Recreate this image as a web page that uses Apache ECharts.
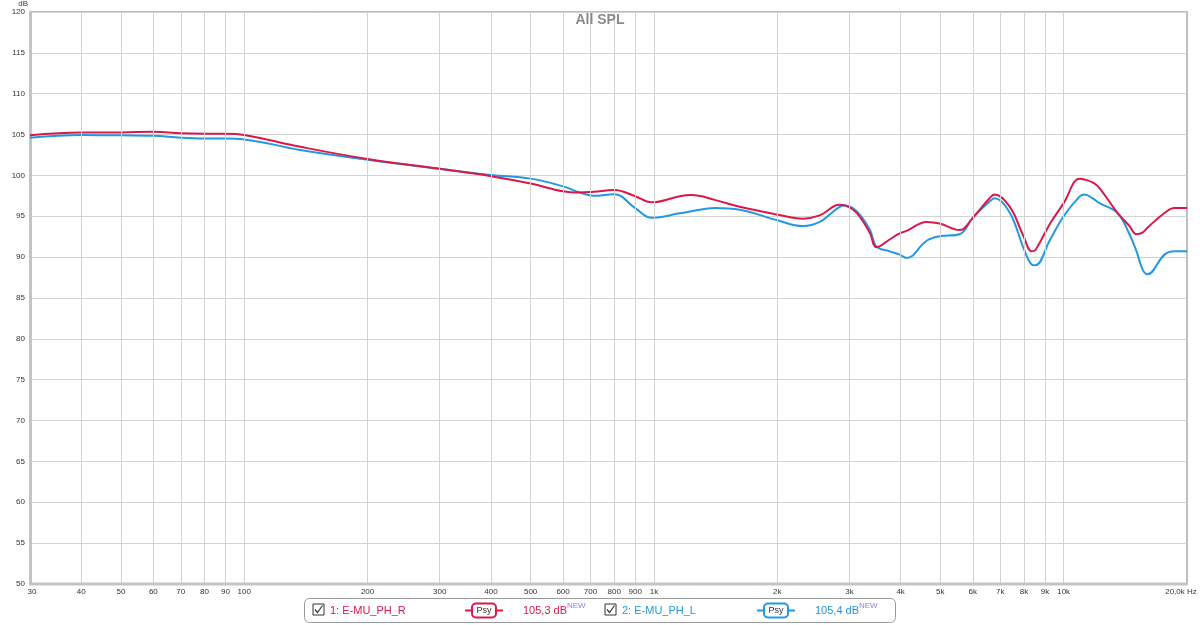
<!DOCTYPE html>
<html>
<head>
<meta charset="utf-8">
<script src="https://cdn.jsdelivr.net/npm/echarts@6/dist/echarts.min.js"></script>
<style>html,body{margin:0;padding:0;background:#fff}#c{width:1200px;height:625px}</style>
</head>
<body>
<div id="c"></div>
<script>
const freqs = [30,40,50,60,70,80,90,100,137,200,300,400,500,600,660,713,800,900,987,1156,1236,1407,1619,2000,2306,2538,2839,2936,3124,3361,3495,3761,3978,4137,4629,4981,5571,6000,6593,6780,7376,7983,8349,8540,9238,10000,10931,11243,11800,12232,13532,14476,15060,15577,16020,17625,18642,20000];
const splR = [104.9,105.25,105.25,105.35,105.15,105.1,105.1,104.95,103.5,102.0,100.8,99.9,99.0,98.05,97.9,98.0,98.2,97.45,96.7,97.45,97.6,97.0,96.15,95.2,94.7,95.1,96.4,96.3,95.4,93.0,91.2,92.15,92.9,93.2,94.3,94.1,93.3,94.8,97.2,97.65,96.2,92.55,90.7,90.9,94.0,96.6,99.6,99.5,99.1,98.45,95.4,93.8,92.8,93.0,93.6,95.4,96.0,96.0];
const splL = [104.6,104.95,104.9,104.85,104.6,104.5,104.5,104.4,103.1,101.9,100.8,100.05,99.6,98.65,97.9,97.5,97.7,96.0,94.8,95.35,95.6,96.0,95.8,94.5,93.8,94.3,96.15,96.3,95.6,93.4,91.3,90.7,90.3,89.9,92.0,92.55,92.8,94.8,96.8,97.2,95.5,91.1,89.1,89.0,92.0,95.0,97.4,97.65,97.15,96.6,95.4,92.8,90.7,88.5,87.9,90.3,90.7,90.7];
const tickFreqs = [30,40,50,60,70,80,90,100,200,300,400,500,600,700,800,900,1000,2000,3000,4000,5000,6000,7000,8000,9000,10000,20000];
const tickLabels = ['30','40','50','60','70','80','90','100','200','300','400','500','600','700','800','900','1k','2k','3k','4k','5k','6k','7k','8k','9k','10k','20,0k Hz'];
const seriesNames = ['1: E-MU_PH_R','2: E-MU_PH_L'];
const levelTexts = ['105,3 dB','105,4 dB'];
const title = 'All SPL';

const RED = '#d8194a', BLUE = '#2398e2';
const FONT = 'Liberation Sans, Arial, sans-serif';

const chart = echarts.init(document.getElementById('c'), null, {renderer:'canvas'});

const lastTick = tickFreqs.length - 1;
const gridMarks = tickFreqs.map((f,i) => ({
  xAxis: f,
  label: {formatter: tickLabels[i], offset: i === lastTick ? [-6,0] : (i === 0 ? [2,0] : [0,0])},
  lineStyle: (i === 0 || i === lastTick) ? {color: 'rgba(0,0,0,0)'} : {}
}));

function legendItem(x0, color, name, level) {
  return [
    {type:'rect', shape:{x:x0, y:604, width:11, height:11}, style:{fill:'#fff', stroke:'#333', lineWidth:1}},
    {type:'polyline', shape:{points:[[x0+2,609.5],[x0+4.5,612.5],[x0+9.5,605.5]]}, style:{stroke:'#333', lineWidth:1.2, fill:null}},
    {type:'text', x:x0+17, y:610.5, style:{text:name, fill:color, font:'11px '+FONT, verticalAlign:'middle'}},
    {type:'line', shape:{x1:x0+152, y1:610.5, x2:x0+190, y2:610.5}, style:{stroke:color, lineWidth:2}},
    {type:'rect', shape:{x:x0+159, y:603.5, width:24, height:14, r:4}, style:{fill:'#fff', stroke:color, lineWidth:2}},
    {type:'text', x:x0+171, y:611, style:{text:'Psy', fill:'#333', font:'9px '+FONT, align:'center', verticalAlign:'middle'}},
    {type:'text', x:x0+210, y:610.5, style:{text:level, fill:color, font:'11px '+FONT, verticalAlign:'middle'}},
    {type:'text', x:x0+254, y:606, style:{text:'NEW', fill:'#8a7ff0', font:'8px '+FONT, verticalAlign:'middle'}}
  ];
}

const option = {
  animation: false,
  backgroundColor: '#fff',
  title: {text: title, left: 'center', top: 8, textStyle: {fontFamily: FONT, fontSize: 14, fontWeight: 'bold', color: '#8a8a8a'}},
  grid: {left: 30, right: 13, top: 10, bottom: 41, show: true, borderColor: '#bdbdbd', borderWidth: 2, backgroundColor: '#fff'},
  xAxis: {
    type: 'log', logBase: 10, min: 30, max: 20000,
    axisLine: {show: false},
    axisTick: {show: false},
    axisLabel: {show: false},
    splitLine: {show: false},
    minorSplitLine: {show: false}
  },
  yAxis: {
    type: 'value', min: 50, max: 120, interval: 5,
    name: 'dB', nameLocation: 'end', nameGap: 1,
    nameTextStyle: {fontFamily: FONT, fontSize: 8, color: '#333', align: 'right', padding: [0, 2, -3, 0]},
    axisLine: {show: true, lineStyle: {color: '#c4c4c4', width: 3}},
    axisTick: {show: false},
    axisLabel: {fontFamily: FONT, fontSize: 8, color: '#333', margin: 5},
    splitLine: {lineStyle: {color: '#d3d3d3', width: 1}}
  },
  series: [
    {
      name: seriesNames[0], type: 'line', smooth: 0.4, symbol: 'none',
      data: freqs.map((f,i) => [f, splR[i]]),
      lineStyle: {color: RED, width: 2}, z: 3,
      markLine: {
        silent: true, symbol: 'none', animation: false,
        lineStyle: {color: '#d3d3d3', width: 1, type: 'solid'},
        label: {show: true, position: 'start', distance: 4, fontFamily: FONT, fontSize: 8, color: '#333'},
        data: gridMarks
      }
    },
    {
      name: seriesNames[1], type: 'line', smooth: 0.4, symbol: 'none',
      data: freqs.map((f,i) => [f, splL[i]]),
      lineStyle: {color: BLUE, width: 2}, z: 2
    }
  ],
  graphic: [
    {type:'line', shape:{x1:30, y1:584, x2:1187, y2:584}, style:{stroke:'#c4c4c4', lineWidth:3}, z: 10},
    {type:'rect', shape:{x:304.5, y:598.5, width:591, height:24, r:5}, style:{fill:'#fff', stroke:'#9a9a9a', lineWidth:1}},
    ...legendItem(313, RED, seriesNames[0], levelTexts[0]),
    ...legendItem(605, BLUE, seriesNames[1], levelTexts[1])
  ]
};
chart.setOption(option);
</script>
</body>
</html>
